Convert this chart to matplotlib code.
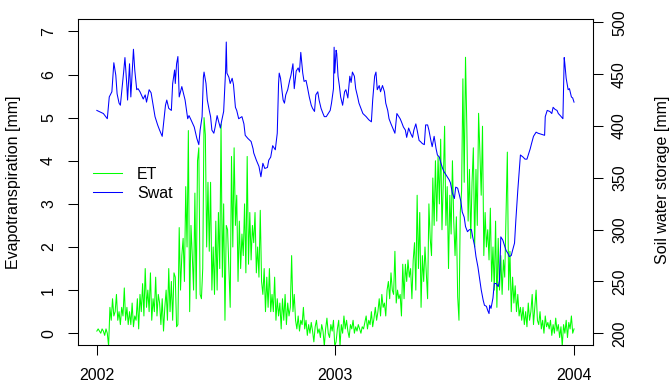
import numpy as np
import matplotlib
matplotlib.use("Agg")
import matplotlib.pyplot as plt
import matplotlib.dates as mdates

plt.rcParams['font.family'] = ['Liberation Sans', 'DejaVu Sans']

start = np.datetime64('2002-01-01')

# daily evapotranspiration, one value every 2 days from 2002-01-01 to 2004-01-01
et = [
    0.05, 0.1, 0.05, 0.0, 0.1, 0.05, -0.05, 0.1, 0.0, -0.3,
    0.6, 0.3, 0.8, 0.4, 0.5, 0.9, 0.3, 0.5, 0.2, 0.6,
    0.4, 1.05, 0.3, 0.6, 0.2, 0.5, 0.2, 0.7, 0.15, 0.4,
    0.3, 0.8, 0.1, 0.9, 0.5, 1.15, 0.4, 1.5, 0.6, 1.0,
    0.5, 1.4, 0.3, 0.8, 0.5, 1.3, 0.4, 0.9, 0.7, 0.2,
    0.8, 0.05, 0.6, 1.0, 0.3, 1.5, 0.5, 1.2, 0.3, 1.4,
    1.3, 0.15, 0.2, 2.45, 1.0, 1.8, 2.2, 1.2, 3.4, 2.0,
    4.7, 0.5, 2.5, 1.8, 1.0, 3.25, 0.8, 4.0, 4.3, 0.9,
    0.8, 1.5, 5.0, 4.6, 2.0, 3.5, 1.9, 3.5, 1.0, 2.0,
    0.9, 2.6, 1.0, 2.8, 1.5, 4.85, 1.3, 3.0, 0.3, 2.5,
    2.4, 1.5, 0.6, 4.1, 2.0, 4.3, 2.5, 3.2, 1.2, 2.6,
    1.5, 2.3, 1.8, 3.0, 1.4, 4.1, 1.6, 2.8, 1.7, 2.5,
    2.1, 2.8, 1.4, 2.0, 1.3, 2.85, 1.2, 0.9, 1.5, 0.5,
    1.3, 0.6, 1.5, 0.5, 0.9, 0.5, 1.3, 0.3, 0.8, 0.4,
    0.7, 0.1, 0.8, 0.3, 0.9, 0.2, 0.7, 0.4, 0.6, 1.8,
    0.5, 0.9, 0.3, 0.1, 0.4, 0.05, 0.3, 0.2, 0.6, 0.1,
    0.3, -0.05, 0.2, 0.0, 0.25, 0.05, -0.2, 0.15, 0.3, 0.0,
    0.1, -0.1, 0.2, 0.05, -0.3, 0.1, 0.35, 0.0, -0.1, 0.2,
    0.05, 0.3, -0.3, -0.2, 0.1, 0.3, -0.3, 0.2, 0.0, 0.4,
    0.1, 0.3, 0.05, -0.1, 0.2, 0.1, 0.3, 0.0, 0.15, 0.05,
    0.2, 0.1, 0.0, 0.15, 0.1, 0.25, 0.4, 0.1, 0.3, 0.2,
    0.5, 0.15, 0.35, 0.6, 0.3, 0.5, 0.8, 0.4, 0.9, 0.6,
    0.7, 0.4, 1.0, 1.2, 0.8, 1.4, 1.0, 0.9, 1.9, 0.7,
    1.0, 0.8, 0.9, 0.4, 1.6, 0.8, 1.6, 1.2, 1.7, 1.3,
    1.5, 0.8, 1.7, 2.1, 1.0, 3.2, 1.5, 2.8, 0.6, 1.8,
    1.2, 2.0, 1.4, 0.8, 3.0, 2.2, 1.8, 3.6, 2.5, 4.0,
    2.6, 4.1, 3.0, 4.5, 2.4, 3.5, 4.8, 2.5, 3.4, 1.5,
    3.2, 2.3, 4.0, 2.6, 1.8, 2.7, 0.85, 0.3, 2.8, 3.3,
    5.9, 3.5, 6.4, 4.8, 2.6, 3.8, 2.2, 3.5, 4.3, 2.0,
    3.8, 2.5, 5.1, 4.2, 3.2, 4.8, 1.8, 2.8, 2.0, 2.4,
    1.7, 2.9, 1.2, 2.0, 1.0, 2.6, 0.6, 2.2, 1.0, 1.8,
    0.9, 1.7, 1.3, 2.8, 4.2, 1.0, 1.9, 0.5, 1.3, 0.7,
    1.1, 0.5, 0.9, 0.4, 0.6, 0.3, 0.6, 0.2, 0.5, 0.15,
    0.7, 0.3, 0.5, 0.9, 0.2, 0.6, 1.0, 0.3, 0.2, 0.5,
    0.1, 0.3, 0.0, 0.4, 0.15, 0.25, 0.1, 0.3, -0.05, 0.2,
    0.0, 0.35, 0.05, 0.2, -0.1, 0.15, -0.3, 0.2, 0.0, 0.3,
    -0.1, 0.25, 0.1, 0.4, 0.0, 0.1,
]

# soil water storage: day since 2002-01-01 and value [mm]
swat_day = [
    0, 10, 16, 19, 23, 26, 29, 31, 34, 36, 41, 43, 46, 47, 50, 52, 56, 58,
    61, 63, 66, 71, 74, 76, 80, 83, 87, 89, 93, 96, 100, 105, 107, 110, 114,
    116, 119, 120, 122, 124, 126, 130, 135, 139, 141, 144, 149, 153, 156,
    158, 161, 163, 164, 167, 169, 172, 174, 176, 179, 181, 184, 186, 189,
    191, 194, 197, 198, 199, 202, 204, 207, 209, 212, 214, 217, 222, 225,
    227, 231, 236, 239, 240, 244, 248, 251, 254, 257, 261, 263, 266, 269,
    273, 276, 278, 279, 281, 285, 287, 289, 292, 295, 297, 300, 302, 305,
    308, 310, 312, 315, 317, 320, 322, 325, 328, 330, 333, 335, 338, 340,
    343, 346, 348, 351, 353, 357, 359, 362, 363, 364, 366, 367, 369, 371,
    373, 376, 379, 381, 384, 387, 389, 391, 394, 396, 399, 401, 404, 407,
    412, 416, 420, 422, 425, 427, 429, 432, 434, 437, 440, 442, 445, 447,
    450, 454, 456, 459, 461, 464, 466, 469, 472, 474, 477, 480, 483, 485,
    488, 490, 493, 495, 498, 501, 503, 506, 508, 511, 513, 516, 519, 521,
    524, 526, 529, 531, 534, 536, 539, 541, 544, 547, 549, 552, 554, 557,
    559, 562, 564, 567, 570, 573, 575, 578, 580, 583, 585, 588, 591, 593,
    596, 598, 600, 601, 603, 606, 608, 611, 614, 616, 618, 621, 624, 626,
    629, 631, 634, 636, 639, 641, 644, 647, 648, 652, 655, 658, 661, 663,
    665, 668, 672, 675, 680, 685, 686, 689, 693, 696, 698, 701, 704, 706,
    709, 713, 714, 715, 716, 718, 721, 723, 726, 728, 730,
]
swat_val = [
    415, 412, 407, 428, 433, 461, 449, 431, 422, 420, 452, 466, 438, 425, 460, 428, 474, 454,
    435, 436, 433, 426, 430, 423, 435, 432, 417, 409, 401, 396, 390, 420, 425, 417, 415,
    441, 454, 441, 460, 467, 428, 438, 425, 407, 410, 406, 399, 388, 382,
    396, 409, 447, 452, 441, 425, 415, 409, 396, 393, 399, 410, 405, 398,
    405, 414, 454, 481, 451, 447, 441, 446, 440, 418, 415, 407, 409, 402,
    391, 388, 385, 378, 374, 367, 361, 351, 364, 359, 360, 367, 370, 381,
    377, 393, 441, 451, 446, 425, 422, 430, 435, 444, 449, 460, 436, 453,
    456, 452, 471, 451, 443, 444, 438, 428, 420, 417, 414, 430, 433, 425,
    417, 412, 409, 409, 411, 415, 422, 436, 476, 451, 473, 470, 448, 439,
    428, 420, 433, 435, 427, 448, 442, 452, 448, 436, 428, 422, 417, 412,
    409, 406, 404, 425, 448, 452, 435, 439, 433, 439, 433, 422, 415, 407,
    402, 396, 393, 412, 410, 407, 404, 399, 396, 389, 398, 393, 389, 396,
    402, 396, 386, 385, 383, 382, 401, 401, 396, 386, 380, 390, 378, 372,
    370, 365, 359, 356, 353, 351, 348, 345, 335, 330, 341, 340, 335, 327,
    317, 312, 303, 298, 300, 300, 293, 284, 274, 264, 255, 242, 232, 227,
    226, 222, 219, 227, 224, 234, 248, 248, 245, 251, 293, 290, 284, 280,
    277, 274, 275, 280, 287, 309, 338, 364, 372, 370, 368, 368, 374, 378,
    383, 390, 394, 393, 392, 391, 409, 415, 414, 412, 418, 416, 415, 412,
    410, 407, 439, 466, 460, 446, 435, 436, 428, 427, 423,
]

et_dates = start + np.arange(len(et)) * np.timedelta64(2, 'D')
swat_dates = start + np.array(swat_day) * np.timedelta64(1, 'D')

fs = 11.5
fig = plt.figure(figsize=(6.72, 3.84), dpi=100)
ax = fig.add_axes([0.1159, 0.1008, 0.7665, 0.8489])
ax2 = ax.twinx()

l1, = ax.plot(et_dates, et, color='#00FF00', lw=0.75)
l2, = ax2.plot(swat_dates, swat_val, color='#0000FF', lw=0.75)

ax.set_xlim(start - np.timedelta64(29, 'D'), start + np.timedelta64(759, 'D'))
ax.set_ylim(-0.28, 7.28)
ax2.set_ylim(188.4, 502.9)

ax.set_xticks([np.datetime64('2002-01-01'), np.datetime64('2003-01-01'),
               np.datetime64('2004-01-01')])
ax.xaxis.set_major_formatter(mdates.DateFormatter('%Y'))
ax.set_yticks(range(0, 8))
ax2.set_yticks(range(200, 501, 50))

for a in (ax, ax2):
    for s in a.spines.values():
        s.set_linewidth(0.75)
ax.tick_params(axis='x', length=7.2, width=0.75, labelsize=fs, pad=9.5)
ax.tick_params(axis='y', length=7.2, width=0.75, labelsize=fs, pad=8.5,
               labelrotation=90)
ax2.tick_params(axis='y', length=7.2, width=0.75, labelsize=fs, pad=6.5,
                labelrotation=90)
for t in ax.get_yticklabels() + ax2.get_yticklabels():
    t.set_verticalalignment('center')

fig.text(14 / 672, 1 - 182 / 384, 'Evapotranspiration [mm]', rotation=90,
         ha='center', va='center', fontsize=fs)
fig.text(662 / 672, 1 - 180 / 384, 'Soil water storage [mm]', rotation=90,
         ha='center', va='center', fontsize=fs)

ax2.legend([l1, l2], ['ET', 'Swat'], loc='upper left',
           bbox_to_anchor=(0.03, 0.547), frameon=False, fontsize=fs,
           borderaxespad=0, borderpad=0, handlelength=1.78,
           handletextpad=0.94, labelspacing=0.24)

fig.savefig('out.png', dpi=100)
